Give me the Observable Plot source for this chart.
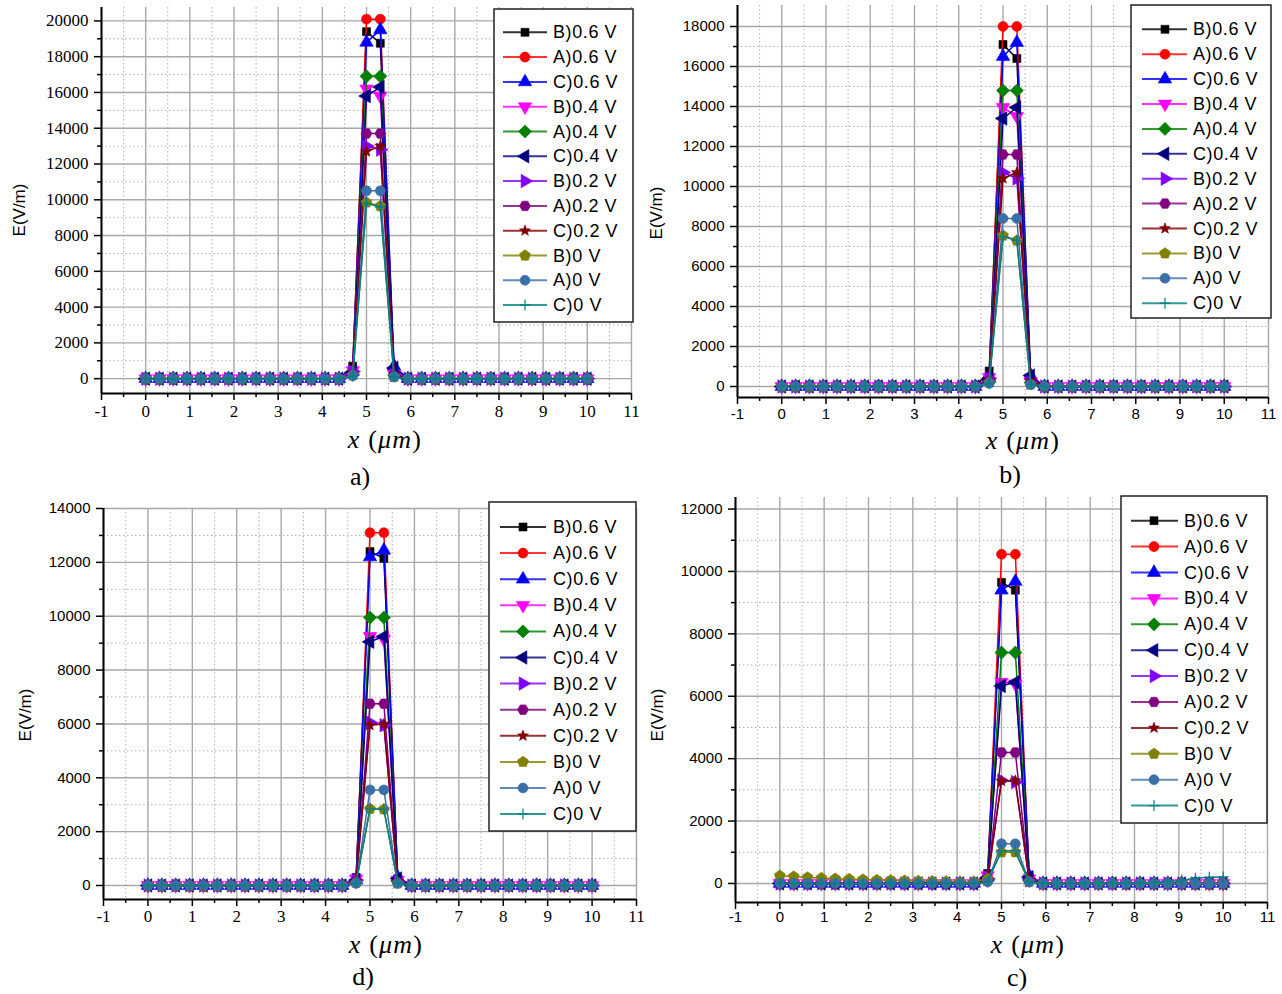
<!DOCTYPE html>
<html><head><meta charset="utf-8">
<script src="https://cdn.jsdelivr.net/npm/d3@7"></script>
<script src="https://cdn.jsdelivr.net/npm/@observablehq/plot@0.6"></script>
<style>
body{margin:0;background:#fff;width:1282px;height:994px;position:relative;overflow:hidden;}
.panel{position:absolute;}
.panel svg{overflow:visible;}
#overlay{position:absolute;left:0;top:0;pointer-events:none;}
</style></head>
<body>
<script>
// ---------- DATA ----------
const xs = [0, 0.3125, 0.625, 0.9375, 1.25, 1.5625, 1.875, 2.1875, 2.5, 2.8125, 3.125, 3.4375, 3.75, 4.0625, 4.375, 4.6875, 5, 5.3125, 5.625, 5.9375, 6.25, 6.5625, 6.875, 7.1875, 7.5, 7.8125, 8.125, 8.4375, 8.75, 9.0625, 9.375, 9.6875, 10];
const seriesNames = ["B)0.6 V","A)0.6 V","C)0.6 V","B)0.4 V","A)0.4 V","C)0.4 V","B)0.2 V","A)0.2 V","C)0.2 V","B)0 V","A)0 V","C)0 V"];
const seriesColors = ["#000000","#ff0000","#0000ff","#ff00ff","#008000","#000080","#8000ff","#800080","#800000","#808000","#3a6fa8","#008080"];
const xMajorTicks = [-1,0,1,2,3,4,5,6,7,8,9,10,11];
const xMinorTicks = [-0.5,0.5,1.5,2.5,3.5,4.5,5.5,6.5,7.5,8.5,9.5,10.5];
// the four peak points of each series sit at x = 4.6875, 5, 5.3125, 5.625; all other points read as 0
const baselineLeft = [0,0,0,0,0,0,0,0,0,0,0,0,0,0,0];
const baselineRight = [0,0,0,0,0,0,0,0,0,0,0,0,0,0];
// panel a)
const peaksA = [
  [700, 19400, 18750, 300],
  [400, 20100, 20100, 200],
  [400, 18800, 19500, 700],
  [450, 16200, 15800, 250],
  [300, 16900, 16900, 200],
  [350, 15800, 16300, 600],
  [400, 13000, 12800, 200],
  [250, 13700, 13700, 150],
  [250, 12700, 13000, 250],
  [200, 9850, 9650, 100],
  [150, 10500, 10500, 100],
  [150, 9800, 9600, 100]];
// panel b)
const peaksB = [
  [770, 17100, 16400, 300],
  [400, 18000, 18000, 200],
  [400, 16500, 17200, 550],
  [450, 13950, 13500, 250],
  [300, 14800, 14800, 200],
  [350, 13400, 13950, 550],
  [400, 10700, 10400, 200],
  [250, 11600, 11600, 150],
  [250, 10400, 10700, 300],
  [200, 7550, 7300, 100],
  [150, 8400, 8400, 100],
  [150, 7500, 7300, 100]];
// panel d)
const peaksD = [
  [300, 12400, 12150, 250],
  [200, 13100, 13100, 150],
  [200, 12200, 12450, 300],
  [250, 9250, 9150, 200],
  [150, 9950, 9950, 150],
  [200, 9050, 9250, 260],
  [200, 6050, 5950, 150],
  [150, 6750, 6750, 100],
  [150, 5950, 6000, 150],
  [100, 2850, 2830, 80],
  [80, 3550, 3550, 80],
  [80, 2850, 2830, 80]];
// panel c)
const peaksC = [
  [320, 9650, 9400, 200],
  [200, 10550, 10550, 150],
  [200, 9400, 9680, 250],
  [250, 6450, 6400, 150],
  [150, 7400, 7400, 100],
  [200, 6330, 6450, 200],
  [150, 3300, 3250, 100],
  [100, 4200, 4200, 80],
  [100, 3280, 3300, 100],
  [150, 1000, 1000, 50],
  [50, 1270, 1270, 50],
  [50, 1050, 1050, 50]];
// panel c) non-zero baselines
const cB0Left = [250, 220, 195, 175, 155, 140, 125, 110, 100, 90, 80, 70, 60, 50, 45];
const cC0Right = [0, 0, 0, 5, 10, 15, 20, 30, 40, 60, 100, 170, 200, 210];

const yTicksA = [0,2000,4000,6000,8000,10000,12000,14000,16000,18000,20000];
const yMinorA = [1000,3000,5000,7000,9000,11000,13000,15000,17000,19000];
const yTicksB = [0,2000,4000,6000,8000,10000,12000,14000,16000,18000];
const yMinorB = [1000,3000,5000,7000,9000,11000,13000,15000,17000];
const yTicksD = [0,2000,4000,6000,8000,10000,12000,14000];
const yMinorD = [1000,3000,5000,7000,9000,11000,13000];
const yTicksC = [0,2000,4000,6000,8000,10000,12000];
const yMinorC = [1000,3000,5000,7000,9000,11000];

// ---------- SYMBOLS ----------
const S3 = Math.sqrt(3);
function tri(dir){return {draw(ctx,size){const s=Math.sqrt(size*4/S3),h=s*S3/2;
  const pts = {up:[[0,-h*2/3],[-s/2,h/3],[s/2,h/3]],down:[[0,h*2/3],[-s/2,-h/3],[s/2,-h/3]],
    left:[[-h*2/3,0],[h/3,-s/2],[h/3,s/2]],right:[[h*2/3,0],[-h/3,-s/2],[-h/3,s/2]]}[dir];
  ctx.moveTo(...pts[0]);ctx.lineTo(...pts[1]);ctx.lineTo(...pts[2]);ctx.closePath();}};}
const squareSym = {draw(ctx,size){const a=Math.sqrt(size)*0.9/2;ctx.rect(-a,-a,2*a,2*a);}};
const circleSym = {draw(ctx,size){const r=Math.sqrt(size/Math.PI);ctx.moveTo(r,0);ctx.arc(0,0,r,0,2*Math.PI);}};
const diamondSym = {draw(ctx,size){const d=Math.sqrt(size/2)*1.05;ctx.moveTo(0,-d);ctx.lineTo(d,0);ctx.lineTo(0,d);ctx.lineTo(-d,0);ctx.closePath();}};
const pentSym = {draw(ctx,size){const r=Math.sqrt(2*size/(5*Math.sin(2*Math.PI/5)));for(let i=0;i<5;i++){const a=-Math.PI/2+i*2*Math.PI/5;const p=[r*Math.cos(a),r*Math.sin(a)];i?ctx.lineTo(...p):ctx.moveTo(...p);}ctx.closePath();}};
const hexSym = {draw(ctx,size){const r=Math.sqrt(2*size/(3*S3));for(let i=0;i<6;i++){const a=i*Math.PI/3;const p=[r*Math.cos(a),r*Math.sin(a)];i?ctx.lineTo(...p):ctx.moveTo(...p);}ctx.closePath();}};
const starSym = {draw(ctx,size){const R=Math.sqrt(size/Math.PI)*1.15,r=R*0.42;for(let i=0;i<10;i++){const a=-Math.PI/2+i*Math.PI/5;const rr=i%2?r:R;const p=[rr*Math.cos(a),rr*Math.sin(a)];i?ctx.lineTo(...p):ctx.moveTo(...p);}ctx.closePath();}};
const plusSym = {draw(ctx,size){const r=Math.sqrt(size/Math.PI)*1.1;ctx.moveTo(-r,0);ctx.lineTo(r,0);ctx.moveTo(0,-r);ctx.lineTo(0,r);}};
const seriesSymbols = [squareSym, circleSym, tri("up"), tri("down"), diamondSym, tri("left"), tri("right"), hexSym, starSym, pentSym, circleSym, plusSym];

// ---------- BUILD ----------
function buildSeries(peaks, panelKey){
  return peaks.map((pk,i)=>{
    let left = baselineLeft, right = baselineRight;
    if(panelKey==="c" && i===9) left = cB0Left;
    if(panelKey==="c" && i===11) right = cC0Right;
    const ys = [...left, ...pk, ...right];
    return xs.map((x,j)=>({x, y: ys[j], s: seriesNames[i]}));
  });
}

const panels = [
  {key:"a", peaks:peaksA, left:0, top:0, width:641, height:430, mL:101, mR:10, mT:7, mB:37, ydom:[-830,20750], yT:yTicksA, yM:yMinorA, yFont:"Liberation Serif", yFs:17, xFont:"Liberation Serif", xFs:17, xPad:4},
  {key:"b", peaks:peaksB, left:640, top:0, width:642, height:440, mL:97, mR:14, mT:5, mB:43, ydom:[-550,19050], yT:yTicksB, yM:yMinorB, yFont:"Liberation Sans", yFs:15, xFont:"Liberation Sans", xFs:15, xPad:4},
  {key:"d", peaks:peaksD, left:0, top:495, width:641, height:440, mL:103, mR:5, mT:13, mB:36, ydom:[-520,14000], yT:yTicksD, yM:yMinorD, yFont:"Liberation Sans", yFs:15, xFont:"Liberation Serif", xFs:17, xPad:3},
  {key:"c", peaks:peaksC, left:640, top:495, width:642, height:440, mL:95, mR:15, mT:2, mB:33, ydom:[-610,12370], yT:yTicksC, yM:yMinorC, yFont:"Liberation Sans", yFs:15, xFont:"Liberation Sans", xFs:15, xPad:2}
];

for(const p of panels){
  const series = buildSeries(p.peaks, p.key);
  const marks = [
    Plot.ruleX(xMinorTicks, {stroke:"#b0b0b0", strokeWidth:1, strokeDasharray:"1.5,2.5"}),
    Plot.ruleY(p.yM, {stroke:"#b0b0b0", strokeWidth:1, strokeDasharray:"1.5,2.5"}),
    Plot.ruleX(xMajorTicks, {stroke:"#a8a8a8", strokeWidth:1.4}),
    Plot.ruleY(p.yT, {stroke:"#a8a8a8", strokeWidth:1.4}),
  ];
  series.forEach((data,i)=>{
    marks.push(Plot.line(data, {x:"x", y:"y", stroke:seriesColors[i], strokeWidth:1.5}));
    if(i===11){
      marks.push(Plot.dot(data, {x:"x", y:"y", symbol:seriesSymbols[i], r:5, fill:"none", stroke:seriesColors[i], strokeWidth:1.2}));
    } else {
      marks.push(Plot.dot(data, {x:"x", y:"y", symbol:seriesSymbols[i], r:5, fill:seriesColors[i], stroke:seriesColors[i], strokeWidth:0.6}));
    }
  });
  marks.push(
    Plot.axisX({ticks:xMinorTicks, tickSize:4, tickFormat:()=>"", strokeWidth:1.5, label:null}),
    Plot.axisX({ticks:xMajorTicks, tickSize:7, tickPadding:p.xPad, strokeWidth:1.5, fontFamily:p.xFont, fontSize:p.xFs, tickFormat:d=>String(d), label:null}),
    Plot.axisY({ticks:p.yM, tickSize:4, tickFormat:()=>"", strokeWidth:1.5, label:null}),
    Plot.axisY({ticks:p.yT, tickSize:7, tickPadding:6, strokeWidth:1.5, fontFamily:p.yFont, fontSize:p.yFs, tickFormat:d=>String(d), label:null}),
    Plot.ruleX([-1], {stroke:"#000", strokeWidth:2}),
    Plot.ruleY([p.ydom[0]], {stroke:"#000", strokeWidth:2})
  );
  const chart = Plot.plot({
    width:p.width, height:p.height,
    marginLeft:p.mL, marginRight:p.mR, marginTop:p.mT, marginBottom:p.mB,
    x:{domain:[-1,11], label:null}, y:{domain:p.ydom, label:null},
    style:{background:"transparent", color:"#000", overflow:"visible"},
    marks
  });
  const div = document.createElement("div");
  div.className="panel";
  div.style.left=p.left+"px"; div.style.top=p.top+"px";
  div.appendChild(chart);
  document.body.appendChild(div);
}

// ---------- OVERLAY: titles + legends ----------
const svg = d3.select("body").append("svg").attr("id","overlay").attr("width",1282).attr("height",994);
const yTitles = [{x:19,y:210},{x:656,y:213},{x:25,y:715},{x:657,y:715}];
yTitles.forEach(t=>svg.append("text").attr("transform",`translate(${t.x},${t.y}) rotate(-90)`)
  .attr("text-anchor","middle").attr("dominant-baseline","central")
  .attr("font-family","Liberation Sans").attr("font-size",17).text("E(V/m)"));
const xTitles = [{x:385,y:448,lab:"a)",ly:485,lx:360},{x:1023,y:449,lab:"b)",ly:483,lx:1010},{x:386,y:953,lab:"d)",ly:985,lx:363},{x:1028,y:953,lab:"c)",ly:986,lx:1017}];
xTitles.forEach(t=>{
  const tx = svg.append("text").attr("x",t.x).attr("y",t.y).attr("text-anchor","middle")
    .attr("font-family","Liberation Serif").attr("font-size",26).attr("letter-spacing",1.2);
  tx.append("tspan").attr("font-style","italic").text("x");
  tx.append("tspan").text(" (");
  tx.append("tspan").attr("font-style","italic").text("\u03BCm");
  tx.append("tspan").text(")");
  svg.append("text").attr("x",t.lx).attr("y",t.ly).attr("text-anchor","middle")
    .attr("font-family","Liberation Serif").attr("font-size",26).text(t.lab);
});
const legends = [
  {x0:494,y0:9,w:139,h:313,first:32.3,step:24.8,l1:503,l2:547,m:525,tx:553},
  {x0:1131,y0:5,w:140,h:313,first:29.3,step:24.9,l1:1142,l2:1187,m:1165,tx:1193},
  {x0:489,y0:502,w:147,h:329,first:527,step:26.1,l1:500,l2:546,m:523,tx:553},
  {x0:1121,y0:496,w:146,h:327,first:520.7,step:25.9,l1:1131,l2:1178,m:1154,tx:1184}
];
legends.forEach(L=>{
  svg.append("rect").attr("x",L.x0).attr("y",L.y0).attr("width",L.w).attr("height",L.h)
    .attr("fill","#fff").attr("stroke","#222").attr("stroke-width",1.5);
  seriesNames.forEach((name,i)=>{
    const y = L.first + i*L.step;
    svg.append("line").attr("x1",L.l1).attr("x2",L.l2).attr("y1",y).attr("y2",y)
      .attr("stroke",seriesColors[i]).attr("stroke-width",2).attr("stroke-opacity",0.8);
    const path = d3.symbol().type(seriesSymbols[i]).size(78.5)();
    const sp = svg.append("path").attr("d",path).attr("transform",`translate(${L.m},${y})`);
    if(i===11) sp.attr("fill","none").attr("stroke",seriesColors[i]).attr("stroke-width",1.2);
    else sp.attr("fill",seriesColors[i]).attr("stroke",seriesColors[i]).attr("stroke-width",0.6);
    svg.append("text").attr("x",L.tx).attr("y",y).attr("dominant-baseline","central")
      .attr("font-family","Liberation Sans").attr("font-size",18).attr("letter-spacing",0.6).text(name);
  });
});
</script>
</body></html>
